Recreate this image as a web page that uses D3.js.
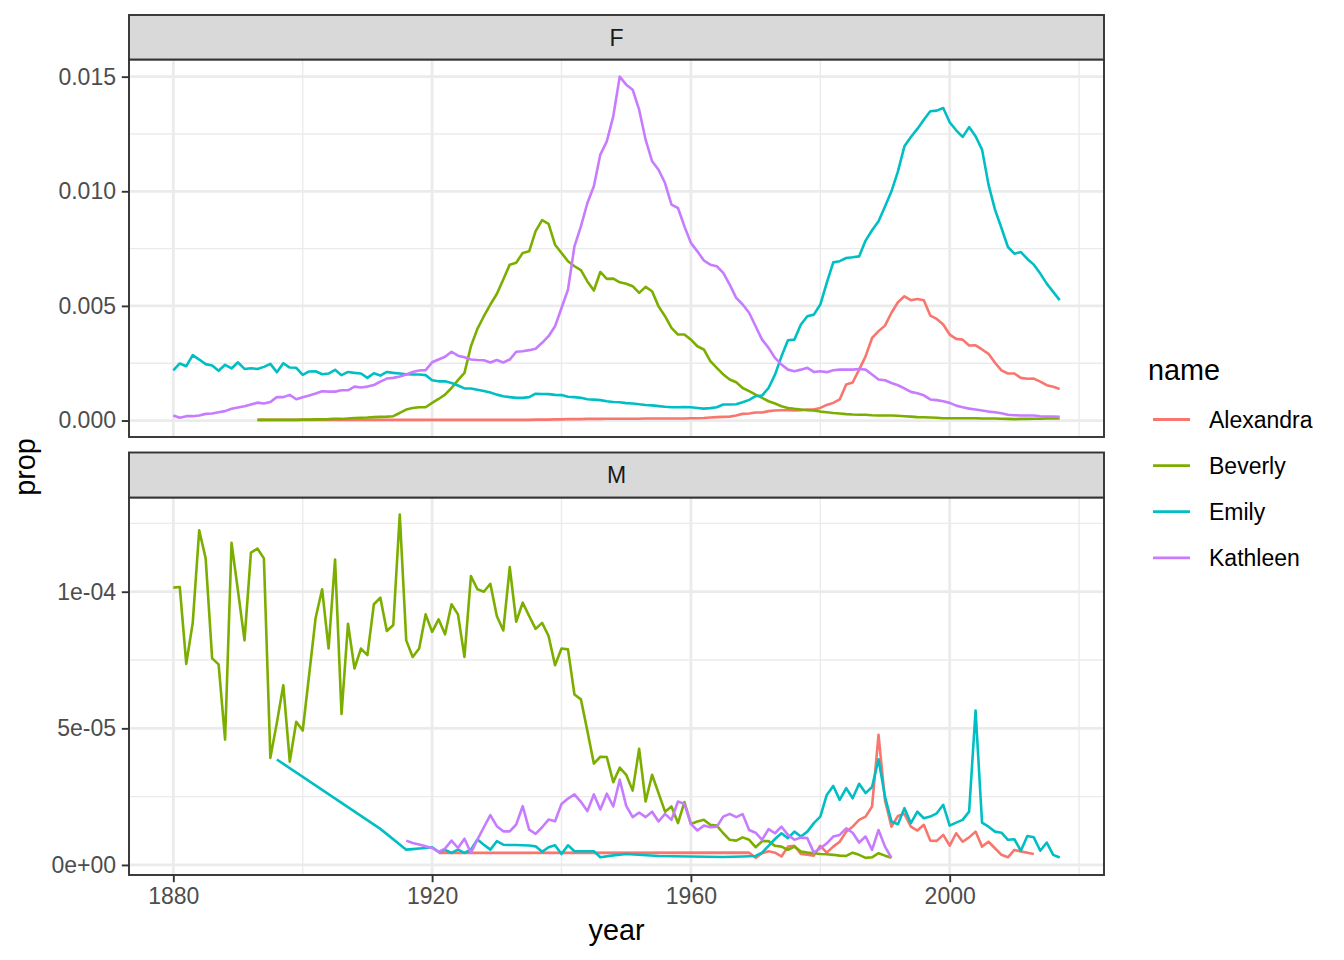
<!DOCTYPE html>
<html><head><meta charset="utf-8">
<script src="https://cdn.jsdelivr.net/npm/d3@7"></script>
<style>body{margin:0;background:#fff;} svg{display:block;} text{font-family:"Liberation Sans",Arial,Helvetica,sans-serif;}</style>
</head><body><svg id="chart" width="1344" height="960"></svg>
<script>
// ---------------- data ----------------
const names = ["Alexandra", "Beverly", "Emily", "Kathleen"];
const colors = ["#F8766D", "#7CAE00", "#00BFC4", "#C77CFF"];
const panelLabels = ["F", "M"];
const xTicks = [1880, 1920, 1960, 2000];
const xMinor = [1900, 1940, 1980, 2020];
const yTicksF = [0, 0.005, 0.010, 0.015];
const yTickLabelsF = ["0.000", "0.005", "0.010", "0.015"];
const yMinorF = [0.0025, 0.0075, 0.0125];
const yTicksM = [0, 5e-5, 1e-4];
const yTickLabelsM = ["0e+00", "5e-05", "1e-04"];
const yMinorM = [2.5e-5, 7.5e-5, 1.25e-4];

// F panel (consecutive years from start year)
const alexandraF_start = 1893;
const alexandraF = [
  0.00003,0.00003,0.00003,0.00003,0.00003,0.00003,0.00003,
  0.00003,0.00003,0.00003,0.00003,0.00003,0.00003,0.00003,0.00003,0.00003,0.00003,
  0.00003,0.00003,0.00003,0.00003,0.00003,0.00003,0.00003,0.00003,0.00003,0.00003,
  0.00003,0.00003,0.00003,0.00003,0.00003,0.00003,0.00003,0.00003,0.00003,0.00003,
  0.00003,0.00003,0.00003,0.00003,0.00003,0.00003,0.00004,0.00004,0.00004,0.00005,
  0.00005,0.00006,0.00006,0.00006,0.00007,0.00007,0.00007,0.00008,0.00008,0.00008,
  0.00008,0.00008,0.00008,0.00009,0.00009,0.00009,0.00009,0.00009,0.00009,0.00009,
  0.00010,0.00010,0.00011,0.00013,0.00015,0.00016,0.00017,0.00022,0.00029,0.00031,
  0.00035,0.00035,0.00041,0.00044,0.00045,0.00045,0.00044,0.00045,0.00048,0.00048,
  0.00055,0.00068,0.00077,0.00092,0.00157,0.00166,0.00222,0.00280,0.00360,0.00390,
  0.00414,0.00470,0.00516,0.00542,0.00525,0.00530,0.00525,0.00458,0.00443,0.00419,
  0.00375,0.00356,0.00353,0.00327,0.00328,0.00310,0.00291,0.00252,0.00219,0.00205,
  0.00205,0.00186,0.00182,0.00183,0.00170,0.00154,0.00147,0.00138
];
const beverlyF_start = 1893;
const beverlyF = [
  0.00003,0.00003,0.00003,0.00003,0.00003,0.00003,0.00003,
  0.00004,0.00004,0.00005,0.00005,0.00006,0.00008,0.00007,0.00009,0.00011,0.00012,
  0.00013,0.00015,0.00016,0.00017,0.00019,0.00033,0.00048,0.00055,0.00058,0.00058,
  0.00077,0.00094,0.00113,0.00142,0.00176,0.00208,0.00324,0.00400,0.00455,0.00506,
  0.00552,0.00615,0.00680,0.00688,0.00731,0.00738,0.00826,0.00874,0.00858,0.00767,
  0.00731,0.00695,0.00673,0.00656,0.00607,0.00567,0.00648,0.00618,0.00619,0.00603,
  0.00597,0.00586,0.00557,0.00583,0.00564,0.00498,0.00455,0.00404,0.00375,0.00375,
  0.00353,0.00324,0.00310,0.00259,0.00230,0.00201,0.00179,0.00167,0.00142,0.00128,
  0.00113,0.00099,0.00084,0.00074,0.00062,0.00055,0.00051,0.00048,0.00045,0.00044,
  0.00039,0.00036,0.00033,0.00031,0.00028,0.00026,0.00025,0.00025,0.00023,0.00022,
  0.00022,0.00022,0.00021,0.00019,0.00017,0.00015,0.00014,0.00013,0.00012,0.00010,
  0.00010,0.00010,0.00010,0.00010,0.00010,0.00009,0.00009,0.00009,0.00008,0.00007,
  0.00006,0.00007,0.00007,0.00008,0.00008,0.00009,0.00009,0.00009
];
const emilyF_start = 1880;
const emilyF = [
  0.00219,0.00249,0.00237,0.00285,0.00266,0.00246,0.00240,0.00217,0.00243,0.00227,
  0.00254,0.00225,0.00228,0.00225,0.00234,0.00247,0.00211,0.00250,0.00231,0.00230,
  0.00199,0.00214,0.00215,0.00202,0.00205,0.00221,0.00198,0.00212,0.00208,0.00205,
  0.00186,0.00206,0.00196,0.00212,0.00208,0.00205,0.00202,0.00201,0.00201,0.00198,
  0.00176,0.00171,0.00171,0.00164,0.00153,0.00140,0.00140,0.00134,0.00129,0.00122,
  0.00113,0.00106,0.00102,0.00099,0.00099,0.00102,0.00117,0.00116,0.00115,0.00112,
  0.00111,0.00104,0.00102,0.00099,0.00093,0.00091,0.00089,0.00084,0.00081,0.00080,
  0.00076,0.00074,0.00071,0.00068,0.00066,0.00063,0.00060,0.00058,0.00058,0.00059,
  0.00058,0.00055,0.00052,0.00054,0.00058,0.00070,0.00070,0.00071,0.00080,0.00090,
  0.00106,0.00109,0.00142,0.00200,0.00280,0.00350,0.00353,0.00419,0.00455,0.00462,
  0.00506,0.00600,0.00690,0.00695,0.00709,0.00712,0.00716,0.00785,0.00830,0.00869,
  0.00934,0.01000,0.01087,0.01196,0.01237,0.01272,0.01312,0.01349,0.01352,0.01363,
  0.01301,0.01266,0.01237,0.01280,0.01240,0.01182,0.01029,0.00920,0.00840,0.00757,
  0.00728,0.00735,0.00705,0.00680,0.00641,0.00597,0.00561,0.00525
];
const kathleenF_start = 1880;
const kathleenF = [
  0.00022,0.00012,0.00019,0.00019,0.00022,0.00029,0.00031,0.00036,0.00041,0.00051,
  0.00057,0.00062,0.00070,0.00078,0.00074,0.00081,0.00102,0.00102,0.00112,0.00093,
  0.00102,0.00109,0.00118,0.00128,0.00126,0.00126,0.00132,0.00132,0.00148,0.00144,
  0.00148,0.00155,0.00170,0.00183,0.00186,0.00192,0.00201,0.00212,0.00218,0.00220,
  0.00254,0.00266,0.00278,0.00300,0.00283,0.00276,0.00266,0.00264,0.00263,0.00253,
  0.00264,0.00253,0.00266,0.00300,0.00302,0.00307,0.00313,0.00339,0.00368,0.00411,
  0.00491,0.00571,0.00760,0.00847,0.00949,0.01022,0.01160,0.01218,0.01327,0.01500,
  0.01465,0.01443,0.01356,0.01225,0.01131,0.01094,0.01036,0.00942,0.00927,0.00847,
  0.00775,0.00738,0.00698,0.00680,0.00673,0.00644,0.00593,0.00535,0.00506,0.00470,
  0.00411,0.00353,0.00317,0.00273,0.00244,0.00222,0.00215,0.00222,0.00230,0.00212,
  0.00215,0.00211,0.00219,0.00222,0.00222,0.00222,0.00225,0.00222,0.00201,0.00179,
  0.00176,0.00164,0.00154,0.00140,0.00125,0.00119,0.00110,0.00092,0.00089,0.00084,
  0.00077,0.00065,0.00058,0.00052,0.00048,0.00044,0.00039,0.00036,0.00032,0.00025,
  0.00023,0.00022,0.00022,0.00022,0.00019,0.00017,0.00017,0.00016
];

// M panel
const alexandraM_years = [1921,
  1969,1970,1971,1972,1973,1974,1975,1976,1977,1978,1979,1980,1981,1982,1983,1984,
  1985,1986,1987,1988,1989,1990,1991,1992,1993,1994,1995,1996,1997,1998,1999,2000,
  2001,2002,2003,2004,2005,2006,2007,2008,2009,2010,2011,2012,2013];
const alexandraM = [0.44e-5,
  0.45e-5,0.26e-5,0.43e-5,0.50e-5,0.45e-5,0.31e-5,0.67e-5,0.70e-5,0.40e-5,0.37e-5,0.34e-5,0.70e-5,0.45e-5,0.67e-5,0.85e-5,1.22e-5,
  1.40e-5,1.65e-5,1.77e-5,2.14e-5,4.76e-5,2.36e-5,1.40e-5,1.79e-5,1.87e-5,1.40e-5,1.26e-5,1.47e-5,0.89e-5,0.88e-5,1.10e-5,0.71e-5,
  1.16e-5,0.85e-5,1.01e-5,1.22e-5,0.67e-5,0.85e-5,0.61e-5,0.37e-5,0.28e-5,0.55e-5,0.49e-5,0.45e-5,0.40e-5];
const beverlyM_start = 1880;
const beverlyM = [
  10.15e-5,10.17e-5,7.36e-5,8.86e-5,12.25e-5,11.22e-5,7.56e-5,7.34e-5,4.59e-5,11.79e-5,
  10.02e-5,8.22e-5,11.43e-5,11.58e-5,11.22e-5,3.92e-5,5.20e-5,6.58e-5,3.78e-5,5.24e-5,
  4.92e-5,6.97e-5,9.05e-5,10.09e-5,7.92e-5,11.18e-5,5.53e-5,8.83e-5,7.19e-5,7.92e-5,
  7.68e-5,9.54e-5,9.78e-5,8.56e-5,8.78e-5,12.82e-5,8.22e-5,7.61e-5,7.92e-5,9.17e-5,
  8.53e-5,8.99e-5,8.44e-5,9.54e-5,9.17e-5,7.61e-5,10.57e-5,10.09e-5,10.00e-5,10.29e-5,
  9.11e-5,8.58e-5,10.90e-5,8.90e-5,9.60e-5,9.11e-5,8.64e-5,8.86e-5,8.38e-5,7.31e-5,
  7.92e-5,7.89e-5,6.24e-5,6.06e-5,4.90e-5,3.71e-5,3.96e-5,3.95e-5,3.03e-5,3.56e-5,
  3.30e-5,2.72e-5,4.25e-5,2.32e-5,3.30e-5,2.63e-5,1.95e-5,2.14e-5,1.53e-5,2.30e-5,
  1.50e-5,1.59e-5,1.65e-5,1.47e-5,1.44e-5,1.16e-5,0.92e-5,0.89e-5,1.01e-5,0.92e-5,
  0.65e-5,0.87e-5,0.87e-5,0.70e-5,0.67e-5,0.55e-5,0.67e-5,0.49e-5,0.45e-5,0.43e-5,
  0.40e-5,0.39e-5,0.37e-5,0.34e-5,0.33e-5,0.45e-5,0.37e-5,0.26e-5,0.28e-5,0.43e-5,
  0.34e-5,0.26e-5
];
const emilyM_years = [1896,1912,
  1916,1917,1918,1919,1920,1921,1922,1923,1924,1925,1926,1927,1928,1929,1930,1931,
  1932,1933,1934,1935,1936,1937,1938,1939,1940,1941,1942,1943,1944,1945,1946,1948,
  1950,1955,1960,1965,1968,1970,1971,1972,1973,1974,1975,1976,1977,1978,1979,1980,
  1981,1982,1983,1984,1985,1986,1987,1988,1989,1990,1991,1992,1993,1994,1995,1996,
  1997,1998,1999,2000,2001,2002,2003,2004,2005,2006,2007,2008,2009,2010,2011,2012,
  2013,2014,2015,2016,2017];
const emilyM = [3.86e-5,1.32e-5,
  0.56e-5,0.58e-5,0.60e-5,0.62e-5,0.65e-5,0.48e-5,0.55e-5,0.44e-5,0.56e-5,0.44e-5,0.56e-5,0.93e-5,0.74e-5,0.56e-5,0.87e-5,0.74e-5,
  0.73e-5,0.73e-5,0.72e-5,0.71e-5,0.68e-5,0.48e-5,0.65e-5,0.72e-5,0.40e-5,0.72e-5,0.50e-5,0.50e-5,0.50e-5,0.50e-5,0.28e-5,0.35e-5,
  0.40e-5,0.33e-5,0.31e-5,0.29e-5,0.31e-5,0.33e-5,0.45e-5,0.70e-5,0.95e-5,1.16e-5,0.98e-5,1.22e-5,1.04e-5,1.22e-5,1.53e-5,1.77e-5,
  2.56e-5,2.89e-5,2.38e-5,2.81e-5,2.44e-5,2.97e-5,2.63e-5,2.85e-5,3.87e-5,2.50e-5,1.59e-5,1.49e-5,2.08e-5,1.53e-5,1.95e-5,1.71e-5,
  1.77e-5,1.89e-5,2.20e-5,1.44e-5,1.55e-5,1.65e-5,1.95e-5,5.65e-5,1.55e-5,1.40e-5,1.22e-5,1.18e-5,0.92e-5,0.94e-5,0.52e-5,1.06e-5,
  1.01e-5,0.52e-5,0.82e-5,0.37e-5,0.27e-5];
const kathleenM_start = 1916;
const kathleenM = [
  0.89e-5,0.80e-5,0.75e-5,0.68e-5,
  0.62e-5,0.48e-5,0.60e-5,0.89e-5,0.62e-5,0.96e-5,0.44e-5,0.93e-5,1.38e-5,1.82e-5,
  1.42e-5,1.23e-5,1.23e-5,1.48e-5,2.15e-5,1.29e-5,1.14e-5,1.38e-5,1.66e-5,1.60e-5,
  2.23e-5,2.43e-5,2.58e-5,2.31e-5,1.97e-5,2.58e-5,2.03e-5,2.61e-5,2.14e-5,3.12e-5,
  2.16e-5,1.75e-5,1.92e-5,1.75e-5,1.95e-5,1.59e-5,1.87e-5,1.65e-5,2.32e-5,2.23e-5,
  1.50e-5,1.26e-5,1.44e-5,1.38e-5,1.40e-5,1.77e-5,1.87e-5,1.75e-5,1.86e-5,1.28e-5,
  1.18e-5,0.92e-5,1.31e-5,1.16e-5,1.40e-5,1.10e-5,0.92e-5,1.00e-5,0.98e-5,0.45e-5,
  0.61e-5,0.79e-5,1.04e-5,1.10e-5,1.34e-5,1.18e-5,0.82e-5,1.04e-5,0.55e-5,1.28e-5,
  0.67e-5,0.26e-5
];

// ---------------- build ----------------
const seq = (start, vals) => vals.map((v, i) => ({year: start + i, prop: v}));
const pairs = (yrs, vals) => yrs.map((y, i) => ({year: y, prop: vals[i]}));

const panelData = [
  [seq(alexandraF_start, alexandraF), seq(beverlyF_start, beverlyF), seq(emilyF_start, emilyF), seq(kathleenF_start, kathleenF)],
  [pairs(alexandraM_years, alexandraM), seq(beverlyM_start, beverlyM), pairs(emilyM_years, emilyM), seq(kathleenM_start, kathleenM)]
];
const yTickSets = [[yTicksF, yTickLabelsF, yMinorF], [yTicksM, yTickLabelsM, yMinorM]];

const svg = d3.select("#chart");
const FONT = 23;
const grey30 = "#4D4D4D", grey20 = "#333333", grid = "#EBEBEB";
const L = 129, R = 1104;
const layout = [
  {strip: [15, 59.5], panel: [59.5, 437]},
  {strip: [452.5, 497.5], panel: [497.5, 875]}
];

const expand = (ext) => { const d = ext[1] - ext[0]; return [ext[0] - 0.05 * d, ext[1] + 0.05 * d]; };
const allYears = panelData.flat(2).map(d => d.year);
const x = d3.scaleLinear().domain(expand(d3.extent(allYears))).range([L, R]);

panelData.forEach((series, pi) => {
  const lay = layout[pi];
  const [top, bot] = lay.panel;
  const vals = series.flat().map(d => d.prop);
  const y = d3.scaleLinear().domain(expand(d3.extent(vals))).range([bot, top]);
  const [ticks, labels, minor] = yTickSets[pi];
  const g = svg.append("g");

  g.append("rect").attr("x", L).attr("y", top).attr("width", R - L).attr("height", bot - top).attr("fill", "#fff");

  const clip = "clip" + pi;
  svg.append("clipPath").attr("id", clip).append("rect")
    .attr("x", L).attr("y", top).attr("width", R - L).attr("height", bot - top);
  const inner = g.append("g").attr("clip-path", `url(#${clip})`);

  // minor grid
  inner.selectAll(".vminor").data(xMinor).join("line").attr("class", "vminor")
    .attr("x1", d => x(d)).attr("x2", d => x(d)).attr("y1", top).attr("y2", bot)
    .attr("stroke", grid).attr("stroke-width", 1.4);
  inner.selectAll(".hminor").data(minor).join("line").attr("class", "hminor")
    .attr("x1", L).attr("x2", R).attr("y1", d => y(d)).attr("y2", d => y(d))
    .attr("stroke", grid).attr("stroke-width", 1.4);
  // major grid
  inner.selectAll(".vmajor").data(xTicks).join("line").attr("class", "vmajor")
    .attr("x1", d => x(d)).attr("x2", d => x(d)).attr("y1", top).attr("y2", bot)
    .attr("stroke", grid).attr("stroke-width", 2.8);
  inner.selectAll(".hmajor").data(ticks).join("line").attr("class", "hmajor")
    .attr("x1", L).attr("x2", R).attr("y1", d => y(d)).attr("y2", d => y(d))
    .attr("stroke", grid).attr("stroke-width", 2.8);

  const line = d3.line().x(d => x(d.year)).y(d => y(d.prop));
  series.forEach((pts, si) => {
    inner.append("path").datum(pts).attr("d", line)
      .attr("fill", "none").attr("stroke", colors[si]).attr("stroke-width", 2.6)
      .attr("stroke-linejoin", "round").attr("stroke-linecap", "butt");
  });

  g.append("rect").attr("x", L).attr("y", top).attr("width", R - L).attr("height", bot - top)
    .attr("fill", "none").attr("stroke", grey20).attr("stroke-width", 1.9);

  // strip
  const [st, sb] = lay.strip;
  g.append("rect").attr("x", L).attr("y", st).attr("width", R - L).attr("height", sb - st)
    .attr("fill", "#D9D9D9").attr("stroke", grey20).attr("stroke-width", 1.9);
  g.append("text").attr("x", (L + R) / 2).attr("y", (st + sb) / 2).attr("dy", "0.36em")
    .attr("text-anchor", "middle").attr("font-size", FONT).attr("fill", "#1A1A1A").text(panelLabels[pi]);

  // y axis
  const yAxis = d3.axisLeft(y).tickValues(ticks).tickFormat((d, i) => labels[i]).tickSize(7.2).tickPadding(5.8);
  const ya = svg.append("g").attr("transform", `translate(${L},0)`).call(yAxis);
  ya.select(".domain").remove();
  ya.selectAll(".tick line").attr("stroke", grey20).attr("stroke-width", 1.9);
  ya.selectAll(".tick text").attr("font-size", FONT).attr("fill", grey30)
    .attr("font-family", '"Liberation Sans",Arial,Helvetica,sans-serif');

  if (pi === 1) {
    const xAxis = d3.axisBottom(x).tickValues(xTicks).tickFormat(d3.format("d")).tickSize(7.2).tickPadding(5.8);
    const xa = svg.append("g").attr("transform", `translate(0,${bot})`).call(xAxis);
    xa.select(".domain").remove();
    xa.selectAll(".tick line").attr("stroke", grey20).attr("stroke-width", 1.9);
    xa.selectAll(".tick text").attr("font-size", FONT).attr("fill", grey30)
      .attr("font-family", '"Liberation Sans",Arial,Helvetica,sans-serif');
  }
});

// axis titles
svg.append("text").attr("x", (L + R) / 2).attr("y", 940).attr("text-anchor", "middle")
  .attr("font-size", 28.8).attr("fill", "#000").text("year");
svg.append("text").attr("transform", "translate(35,467) rotate(-90)").attr("text-anchor", "middle")
  .attr("font-size", 28.8).attr("fill", "#000").text("prop");

// legend
const lg = svg.append("g");
lg.append("text").attr("x", 1148).attr("y", 380).attr("font-size", 28.8).attr("fill", "#000").text("name");
names.forEach((n, i) => {
  const cy = 419.5 + i * 46.1;
  lg.append("line").attr("x1", 1153).attr("x2", 1190).attr("y1", cy).attr("y2", cy)
    .attr("stroke", colors[i]).attr("stroke-width", 2.8);
  lg.append("text").attr("x", 1209).attr("y", cy).attr("dy", "0.36em").attr("font-size", FONT)
    .attr("fill", "#000").text(n);
});
</script>
</body></html>
